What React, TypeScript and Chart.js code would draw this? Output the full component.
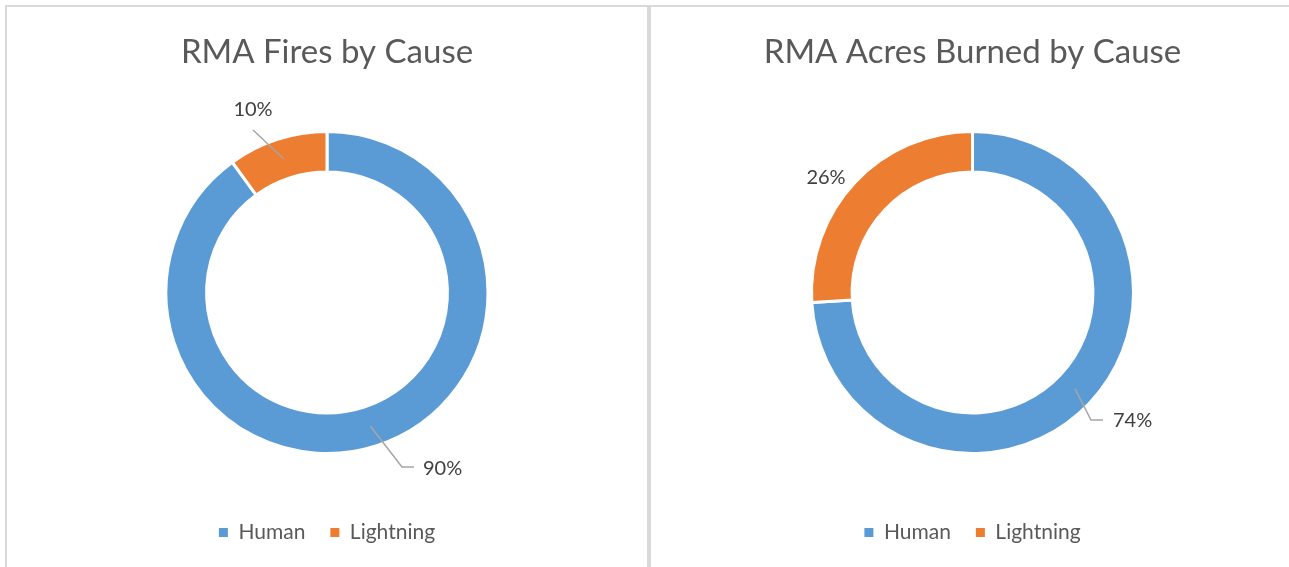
import React, { useEffect, useRef } from "react";
import { Chart, registerables } from "chart.js";

Chart.register(...registerables);

const categories = ["Human", "Lightning"];
const firesPct = [90, 10];
const acresPct = [74, 26];
const titleFires = "RMA Fires by Cause";
const titleAcres = "RMA Acres Burned by Cause";
const sliceColors = ["#5B9BD5", "#ED7D31"];

const FONT = "Lato, 'Open Sans', sans-serif";

type LabelPos = {
  dx: number;
  dy: number;
  align: CanvasTextAlign;
  leader?: [number, number][];
};

const firesLabelPos: LabelPos[] = [
  { dx: 96, dy: 176.5, align: "left", leader: [[75, 174.5], [87, 174.5]] },
  { dx: -74, dy: -182.5, align: "center", leader: [[-74, -162.5]] },
];
const acresLabelPos: LabelPos[] = [
  { dx: 140.5, dy: 128.5, align: "left", leader: [[118.5, 127.5], [130.5, 127.5]] },
  { dx: -146.5, dy: -114.5, align: "center" },
];

const pctLabelPlugin = {
  id: "pctLabels",
  afterDatasetsDraw(chart: any, _args: any, opts: any) {
    const meta = chart.getDatasetMeta(0);
    const ctx: CanvasRenderingContext2D = chart.ctx;
    const data = chart.data.datasets[0].data;
    meta.data.forEach((arc: any, i: number) => {
      const p: LabelPos = opts.positions?.[i];
      if (!p) return;
      const { x, y, startAngle, endAngle, innerRadius, outerRadius } = arc.getProps(
        ["x", "y", "startAngle", "endAngle", "innerRadius", "outerRadius"],
        true
      );
      const mid = (startAngle + endAngle) / 2;
      const r = (innerRadius + outerRadius) / 2;
      ctx.save();
      if (p.leader) {
        ctx.beginPath();
        ctx.moveTo(x + r * Math.cos(mid), y + r * Math.sin(mid));
        p.leader.forEach(([lx, ly]) => ctx.lineTo(x + lx, y + ly));
        ctx.strokeStyle = "#A6A6A6";
        ctx.lineWidth = 1.5;
        ctx.stroke();
      }
      ctx.font = `20px ${FONT}`;
      ctx.fillStyle = "#404040";
      ctx.textAlign = p.align;
      ctx.textBaseline = "middle";
      ctx.fillText(`${data[i]}%`, x + p.dx, y + p.dy);
      ctx.restore();
    });
  },
};

function DonutPanel(props: {
  title: string;
  values: number[];
  positions: LabelPos[];
  padLeft: number;
}) {
  const ref = useRef<HTMLCanvasElement | null>(null);
  useEffect(() => {
    if (!ref.current) return;
    const chart = new Chart(ref.current, {
      type: "doughnut",
      data: {
        labels: categories,
        datasets: [
          {
            data: props.values,
            backgroundColor: sliceColors,
            borderColor: "#FFFFFF",
            borderWidth: 3,
          },
        ],
      },
      options: {
        animation: false,
        responsive: false,
        events: [],
        radius: 161,
        cutout: "74.8%",
        layout: { padding: { bottom: 14, left: props.padLeft } },
        plugins: {
          title: {
            display: true,
            text: props.title,
            color: "#595959",
            font: { family: FONT, size: 33, weight: "normal", lineHeight: 1.2 },
            padding: { top: 25.2, bottom: 16.2 },
          },
          legend: {
            position: "bottom",
            labels: {
              boxWidth: 9,
              boxHeight: 9,
              padding: 25,
              color: "#595959",
              font: { family: FONT, size: 21 },
              generateLabels: (c: any) => {
                const base = (Chart as any).overrides.doughnut.plugins.legend.labels.generateLabels(c);
                return base.map((it: any) => ({ ...it, lineWidth: 0, strokeStyle: it.fillStyle }));
              },
            },
          },
          tooltip: { enabled: false },
          pctLabels: { positions: props.positions },
        } as any,
      } as any,
      plugins: [pctLabelPlugin as any],
    });
    return () => chart.destroy();
  }, []);
  return <canvas ref={ref} width={640} height={560} style={{ display: "block" }} />;
}

export default function App() {
  const panel: React.CSSProperties = {
    position: "absolute",
    top: 5,
    width: 644,
    height: 620,
    boxSizing: "border-box",
    border: "2px solid #D9D9D9",
    background: "#FFFFFF",
  };
  return (
    <div style={{ position: "fixed", left: 0, top: 0, width: 1289, height: 567, overflow: "hidden", background: "#FFFFFF" }}>
      <div style={{ ...panel, left: 5 }}>
        <DonutPanel title={titleFires} values={firesPct} positions={firesLabelPos} padLeft={0} />
      </div>
      <div style={{ ...panel, left: 649 }}>
        <DonutPanel title={titleAcres} values={acresPct} positions={acresLabelPos} padLeft={3} />
      </div>
    </div>
  );
}
